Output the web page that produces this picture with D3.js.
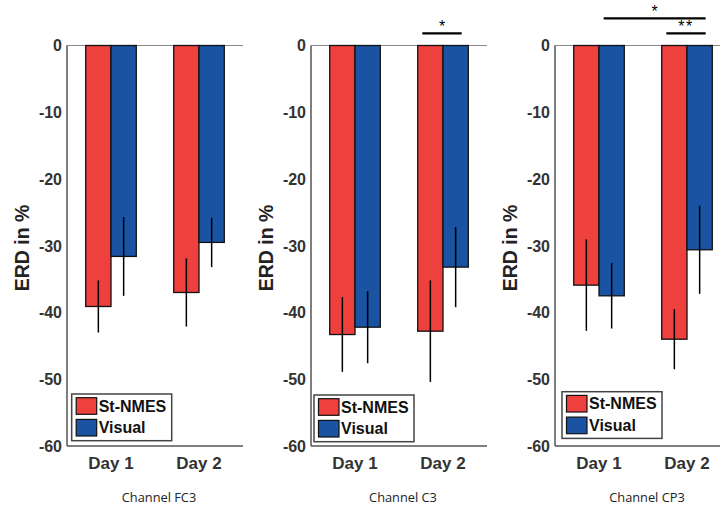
<!DOCTYPE html>
<html><head><meta charset="utf-8">
<script src="https://cdn.jsdelivr.net/npm/d3@7"></script>
<style>body{margin:0;background:#fff}svg{display:block}</style>
</head><body>
<svg id="c" width="720" height="507"></svg>
<script>
const days = ["Day 1", "Day 2"];
const seriesNames = ["St-NMES", "Visual"];
const channels = ["Channel FC3", "Channel C3", "Channel CP3"];
const yTicks = [0, -10, -20, -30, -40, -50, -60];
// means [channel][day]
const stNmesMean = [[-39.1, -37.0], [-43.3, -42.8], [-35.9, -44.0]];
const visualMean = [[-31.6, -29.5], [-42.2, -33.2], [-37.5, -30.6]];
const stNmesErr = [[3.9, 5.1], [5.6, 7.6], [6.85, 4.5]];
const visualErr = [[5.9, 3.7], [5.4, 6.0], [4.9, 6.6]];
// significance: [channel, fromDay, fromSeries, toDay, toSeries, label, level]
const sigs = [
  [1, 1, 0, 1, 1, "*", 0],
  [2, 0, 1, 1, 1, "*", 1],
  [2, 1, 0, 1, 1, "**", 0]
];

const colors = ["#EE403D", "#1B53A3"];
const svg = d3.select("#c");
const axisXs = [67, 311, 555];
const legendPos = [[71.7, 394], [314, 395], [562, 391.7]];
const axW = 176;
const y = d3.scaleLinear().domain([-60, 0]).range([446, 45.5]);
const barW = 25.3;
const sans = "Liberation Sans, Arial, sans-serif";

channels.forEach((ch, ci) => {
  const ax = axisXs[ci];
  const x = d3.scaleLinear().domain([0.5, 2.5]).range([ax, ax + axW]);
  const g = svg.append("g");
  g.append("line").attr("x1", ax).attr("x2", ax + axW).attr("y1", y(0)).attr("y2", y(0))
    .attr("stroke", "#888").attr("stroke-width", 1);
  const means = [stNmesMean[ci], visualMean[ci]];
  const errs = [stNmesErr[ci], visualErr[ci]];
  days.forEach((d, di) => {
    const cx = x(di + 1);
    [0, 1].forEach(si => {
      const x0 = cx + (si - 1) * barW;
      const v = means[si][di];
      g.append("rect").attr("x", x0).attr("y", y(0)).attr("width", barW)
        .attr("height", y(v) - y(0)).attr("fill", colors[si])
        .attr("stroke", "#111").attr("stroke-width", 1.3);
    });
  });
  days.forEach((d, di) => {
    const cx = x(di + 1);
    [0, 1].forEach(si => {
      const bx = cx + (si - 0.5) * barW;
      const v = means[si][di], e = errs[si][di];
      g.append("line").attr("x1", bx).attr("x2", bx).attr("y1", y(v + e)).attr("y2", y(v - e))
        .attr("stroke", "#000").attr("stroke-width", 1.5);
    });
  });
  g.append("line").attr("x1", ax).attr("x2", ax).attr("y1", y(0)).attr("y2", y(-60))
    .attr("stroke", "#555").attr("stroke-width", 1.5);
  g.append("line").attr("x1", ax).attr("x2", ax + axW).attr("y1", y(-60)).attr("y2", y(-60))
    .attr("stroke", "#555").attr("stroke-width", 1.5);
  yTicks.forEach(t => {
    g.append("text").attr("x", ax - 5).attr("y", y(t)).attr("dy", "0.36em")
      .attr("text-anchor", "end").attr("font-family", sans)
      .attr("font-weight", "bold").attr("font-size", 16).attr("fill", "#333").text(t);
  });
  days.forEach((d, di) => {
    g.append("text").attr("x", x(di + 1)).attr("y", 469).attr("text-anchor", "middle")
      .attr("font-family", sans).attr("font-weight", "bold")
      .attr("font-size", 17).attr("fill", "#333").text(d);
  });
  g.append("text").attr("transform", `translate(${ax - 45},${248}) rotate(-90)`)
    .attr("dy", "0.36em").attr("text-anchor", "middle")
    .attr("font-family", sans).attr("font-weight", "bold")
    .attr("font-size", 19.5).attr("fill", "#222").text("ERD in %");
  g.append("text").attr("x", ax + 92).attr("y", 502).attr("text-anchor", "middle")
    .attr("font-family", "Open Sans, sans-serif").attr("font-size", 12.8).attr("fill", "#222").text(ch);
  const [lx, ly] = legendPos[ci];
  const lg = g.append("g").attr("transform", `translate(${lx},${ly})`);
  lg.append("rect").attr("width", 100).attr("height", 46.7).attr("fill", "#fff")
    .attr("stroke", "#444").attr("stroke-width", 1.5);
  seriesNames.forEach((s, si) => {
    lg.append("rect").attr("x", 4.5).attr("y", 3.7 + si * 21.7).attr("width", 20.5).attr("height", 16.6)
      .attr("fill", colors[si]).attr("stroke", "#111").attr("stroke-width", 1.2);
    lg.append("text").attr("x", 27).attr("y", 12 + si * 21.7).attr("dy", "0.36em")
      .attr("font-family", sans).attr("font-weight", "bold")
      .attr("font-size", 16).attr("fill", "#111").text(s);
  });
});

const sigY = [33.3, 18.3];
sigs.forEach(([ci, d0, s0, d1, s1, lab, lvl]) => {
  const ax = axisXs[ci];
  const x = d3.scaleLinear().domain([0.5, 2.5]).range([ax, ax + axW]);
  const xa = x(d0 + 1) + (s0 - 0.5) * barW - 8;
  const xb = x(d1 + 1) + (s1 - 0.5) * barW + 6;
  const yy = sigY[lvl];
  svg.append("line").attr("x1", xa).attr("x2", xb).attr("y1", yy).attr("y2", yy)
    .attr("stroke", "#000").attr("stroke-width", 2.2);
  svg.append("text").attr("x", (xa + xb) / 2).attr("y", yy - 1.5).attr("text-anchor", "middle")
    .attr("font-family", sans).attr("font-size", 16).attr("fill", "#000")
    .attr("letter-spacing", lab.length > 1 ? 1.5 : 0).text(lab);
});
</script>
</body></html>
